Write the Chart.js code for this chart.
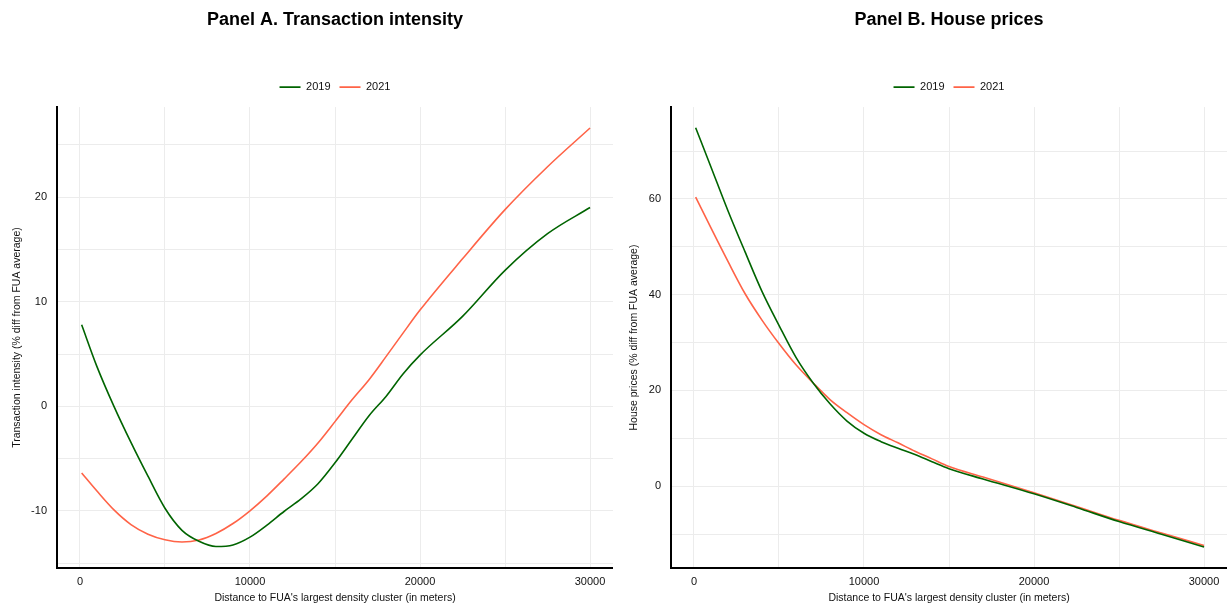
<!DOCTYPE html>
<html><head><meta charset="utf-8">
<script src="https://cdn.jsdelivr.net/npm/chart.js@4.4.1/dist/chart.umd.min.js"></script>
<style>
html,body{margin:0;padding:0;background:#fff;}
#wrap{position:relative;width:1227px;height:604px;overflow:hidden;}
canvas{position:absolute;top:0;}
</style>
</head><body>
<div id="wrap">
<canvas id="cA" width="613" height="604" style="left:0px"></canvas>
<canvas id="cB" width="613" height="604" style="left:614px"></canvas>
</div>
<script>
// ---- data ----
const seriesLabels = ['2019', '2021'];

const distA = [100, 1000, 2000, 3000, 4000, 5000, 6000, 7000, 8000, 9000, 10000, 11000, 12000, 13000, 14000, 15000, 16000, 17000, 18000, 19000, 20000, 22500, 25000, 27500, 30000];
const intensity2019 = [7.8, 3.8, 0.0, -3.45, -6.68, -9.74, -11.85, -12.9, -13.4, -13.25, -12.5, -11.35, -10.05, -8.85, -7.4, -5.4, -3.15, -0.9, 0.95, 3.1, 4.9, 8.6, 13.0, 16.5, 19.0];
const intensity2021 = [-6.37, -8.1, -9.9, -11.3, -12.22, -12.75, -12.96, -12.77, -12.15, -11.2, -9.98, -8.55, -6.95, -5.3, -3.5, -1.46, 0.62, 2.55, 4.75, 7.0, 9.2, 14.1, 18.8, 22.9, 26.6];

const distB = [100, 1000, 2000, 3000, 4000, 5000, 6000, 7000, 8000, 9000, 10000, 11000, 12000, 13000, 14000, 15000, 17000, 20000, 22500, 25000, 27500, 30000];
const prices2019 = [74.9, 66.7, 57.55, 49.0, 40.7, 33.6, 26.9, 21.6, 17.2, 13.6, 11.05, 9.3, 7.9, 6.6, 5.1, 3.65, 1.5, -1.6, -4.45, -7.4, -10.05, -12.7];
const prices2021 = [60.4, 53.95, 46.95, 40.25, 34.7, 29.8, 25.35, 21.6, 18.1, 15.35, 12.85, 10.75, 9.05, 7.3, 5.7, 4.1, 1.9, -1.4, -4.25, -7.15, -9.8, -12.4];

// x grid positions (every 5000 m) and labelled ticks (every 10000 m)
const xGridValues = [0, 5000, 10000, 15000, 20000, 25000, 30000];
const xTickLabelStep = 10000;

// ---- styling ----
const FONT = "'Liberation Sans', Arial, Helvetica, sans-serif";
const GREEN = '#006400';
const RED = '#ff6347';
const GRID = '#ececec';
const TXT = '#111111';
const XTITLE = "Distance to FUA's largest density cluster (in meters)";

function makeChart(id, title, ytitle, xs, s1, s2, ymin, ymax, ystep, ylabStep, ytitlePad) {
  const mk = (arr) => xs.map((x, i) => ({x: x, y: arr[i]}));
  return new Chart(document.getElementById(id), {
    type: 'line',
    data: {
      datasets: [
        {label: seriesLabels[0], data: mk(s1), borderColor: GREEN, backgroundColor: GREEN, borderWidth: 1.6, pointRadius: 0, pointHoverRadius: 0, cubicInterpolationMode: 'monotone', fill: false},
        {label: seriesLabels[1], data: mk(s2), borderColor: RED, backgroundColor: RED, borderWidth: 1.6, pointRadius: 0, pointHoverRadius: 0, cubicInterpolationMode: 'monotone', fill: false}
      ]
    },
    options: {
      responsive: false, animation: false, devicePixelRatio: 1,
      layout: {padding: 0, autoPadding: false},
      plugins: {
        title: {display: true, text: title, fullSize: false, color: '#000',
                font: {family: FONT, size: 18, weight: 'bold', lineHeight: 1.2},
                padding: {top: 9, bottom: 42}},
        legend: {display: true, position: 'top', fullSize: false,
                 labels: {usePointStyle: true, pointStyle: 'line', pointStyleWidth: 21, color: TXT,
                          font: {family: FONT, size: 11}, padding: 9}},
        tooltip: {enabled: false}
      },
      scales: {
        x: {type: 'linear', min: -1350, max: 31350,
            afterBuildTicks: (s) => { s.ticks = xGridValues.map((v) => ({value: v})); },
            ticks: {autoSkip: false, maxRotation: 0, padding: 7, color: TXT,
                    font: {family: FONT, size: 11},
                    callback: (v) => (v % xTickLabelStep === 0 ? String(v) : '')},
            grid: {color: GRID, lineWidth: 1, drawTicks: false},
            border: {display: true, color: '#000', width: 2},
            title: {display: true, text: XTITLE, color: TXT, font: {family: FONT, size: 10.5}, padding: {top: 0, bottom: 0}},
            afterFit: (s) => { s.height = 36; }},
        y: {type: 'linear', min: ymin, max: ymax,
            ticks: {stepSize: ystep, includeBounds: false, autoSkip: false, padding: 10, color: TXT,
                    font: {family: FONT, size: 11},
                    callback: (v) => (Math.abs(v % ylabStep) < 1e-9 ? String(v) : '')},
            grid: {color: GRID, lineWidth: 1, drawTicks: false},
            border: {display: true, color: '#000', width: 2},
            title: {display: true, text: ytitle, color: TXT, font: {family: FONT, size: 10.5}, padding: {top: ytitlePad, bottom: 0}},
            afterFit: (s) => { s.width = 57; }},
        pad: {type: 'linear', position: 'top', display: true,
              grid: {display: false}, border: {display: false}, ticks: {display: false},
              afterFit: (s) => { s.height = 4.5; }}
      }
    }
  });
}

makeChart('cA', 'Panel A. Transaction intensity', 'Transaction intensity (% diff from FUA average)',
          distA, intensity2019, intensity2021, -15.45, 28.6, 5, 10, 11);
makeChart('cB', 'Panel B. House prices', 'House prices (% diff from FUA average)',
          distB, prices2019, prices2021, -17.1, 79.2, 10, 20, 14);
</script>
</body></html>
